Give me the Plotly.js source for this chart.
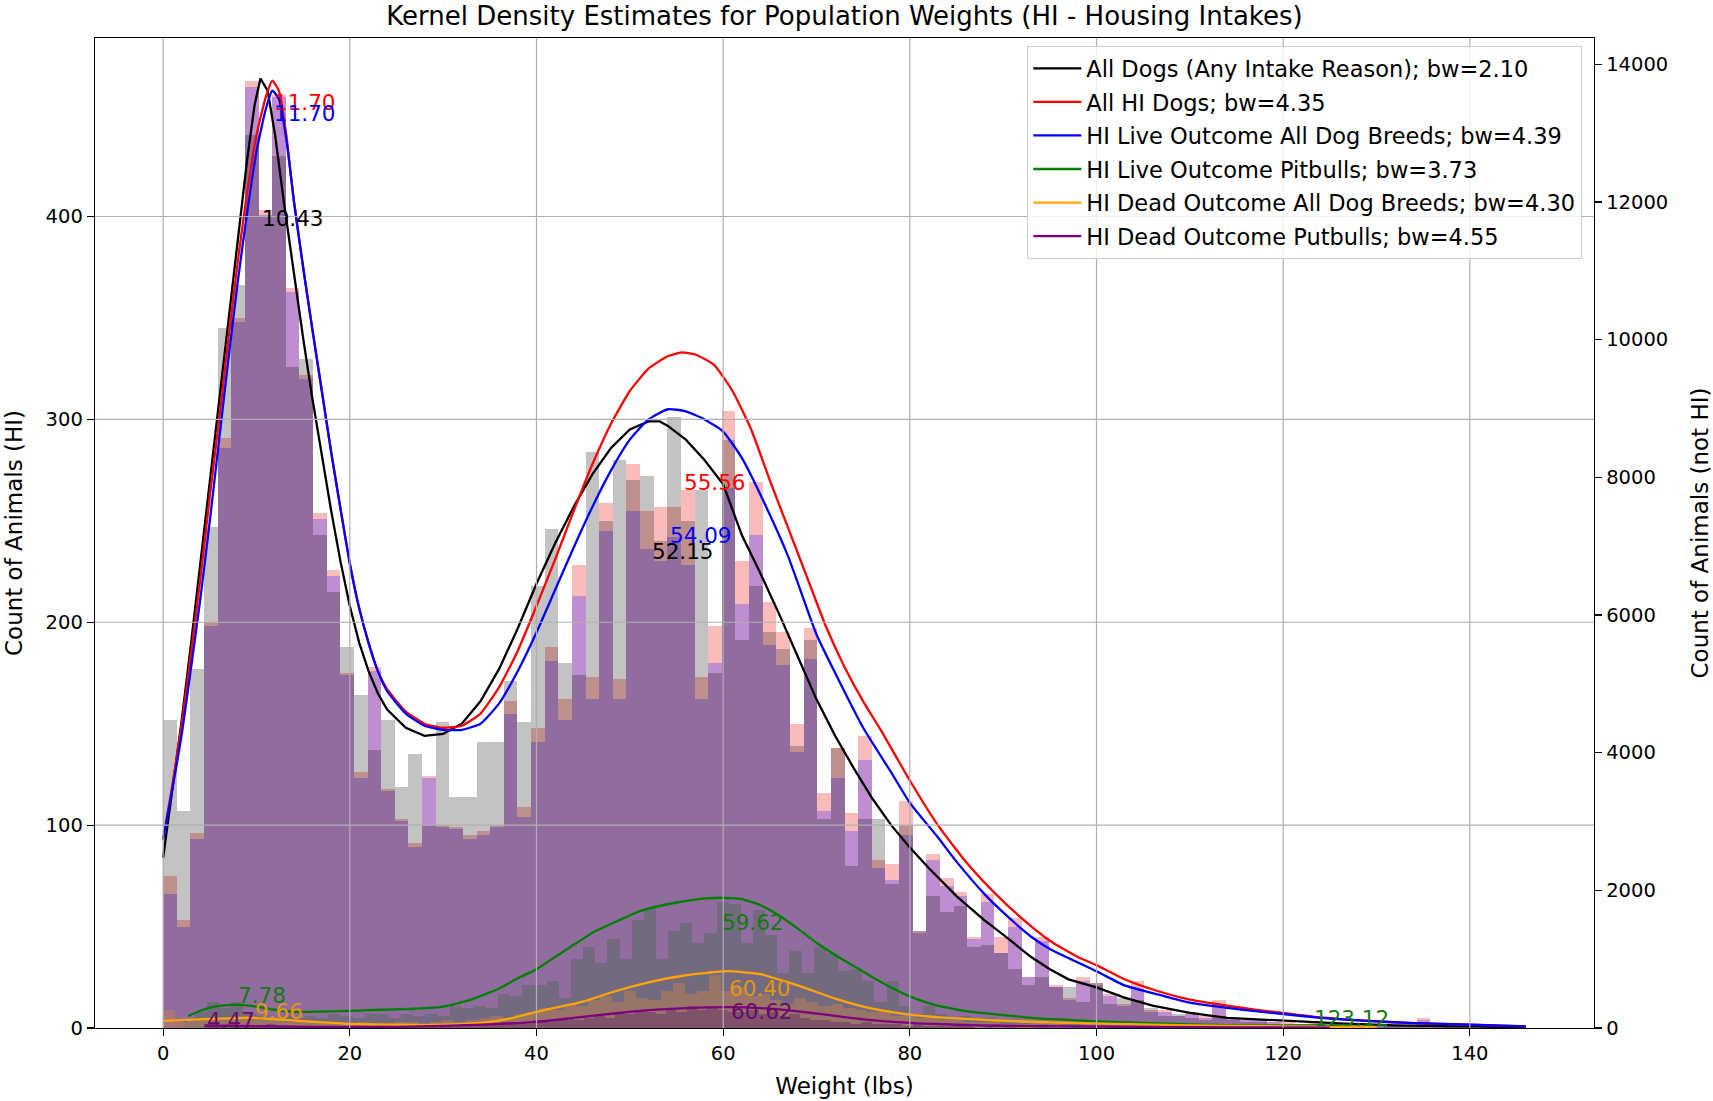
<!DOCTYPE html>
<html>
<head>
<meta charset="utf-8">
<script src="https://cdn.plot.ly/plotly-3.0.1.min.js"></script>
<style>html,body{margin:0;padding:0;background:#fff;}#chart{width:1713px;height:1101px;}</style>
</head>
<body>
<div id="chart"></div>
<script>
// ---------- DATA ----------
// Main histograms (100 bins, shared edges)
const mainBinStart = 0;
const mainBinWidth = 1.46;
// All HI dogs (count, HI axis)
const hiAllCounts = [75,53,96,200,291,350,467,403,460,365,
  322,254,226,175,126,178,118,103,91,124,
  100,99,95,97,100,161,109,148,188,162,
  228,173,259,172,278,255,257,257,265,173,
  198,304,230,269,210,195,150,197,116,138,
  106,144,83,81,112,48,86,74,67,45,
  66,45,54,25,45,21,15,25,22,17,
  12,23,9,9,6,8,6,14,5,4,
  4,3,3,2,3,2,2,2,1,2,
  1,1,5,1,1,1,0,1,0,1];
// HI live outcome, all breeds (count, HI axis)
const hiLiveCounts = [66,50,93,198,286,348,464,401,459,363,
  320,251,223,174,123,176,117,102,89,123,
  99,98,93,95,99,155,104,141,181,152,
  213,162,245,162,255,236,230,242,228,162,
  180,266,209,243,189,179,136,182,107,123,
  97,132,79,73,95,47,83,70,65,44,
  62,37,50,25,43,20,14,23,21,16,
  11,19,8,8,6,7,5,12,5,4,
  4,3,2,2,2,2,2,1,1,1,
  1,1,4,1,1,0,0,1,0,1];
// All dogs, any intake reason (count, not-HI axis)
const allDogsCounts = [4479,3153,5216,7279,10167,10786,12967,11788,12672,9607,
  9725,7161,6336,5540,4833,4037,4479,3507,3978,2947,
  4450,3360,3360,4155,4155,5039,4450,6424,7250,5305,
  5128,8369,7368,8252,7957,8016,7073,8870,7368,7810,
  5157,8546,5629,6424,5747,5511,4096,5629,3035,4067,
  2358,3035,3035,2092,2947,1415,1916,1680,1768,1179,
  1208,1090,855,619,737,589,589,383,648,354,
  442,413,295,177,206,147,118,177,118,88,
  88,59,59,59,59,29,29,29,29,29,
  29,15,29,15,10,10,5,5,3,2];

// HI live outcome pitbulls
const pitLiveBinStart = 2.1;
const pitLiveBinWidth = 1.3;
const pitLiveCounts = [4,8,13,10,13,7,6,5,6,5,
  6,5,7,6,5,7,7,5,7,6,
  7,6,11,10,11,10,17,16,21,21,
  23,15,34,40,32,44,34,53,59,34,
  48,52,42,47,62,61,42,58,46,27,
  38,27,40,37,28,29,23,13,23,11,
  7,11,7,5,6,4,5,3,4,3,
  2,3,2,2,1,2,1,1,1,0,
  1,0,1,0,0,1,0,0,0,0,
  0,0,0,1,0,0,0,0,0,1];
// HI dead outcome, all breeds
const deadAllBinStart = 0;
const deadAllBinWidth = 1.3;
const deadAllCounts = [9,3,4,5,4,5,6,5,4,4,
  3,3,3,2,3,2,3,2,2,3,
  3,2,3,4,3,4,5,6,5,7,
  8,10,9,12,11,14,16,13,18,15,
  14,18,22,17,18,26,18,20,16,17,
  14,12,15,13,11,12,10,9,8,9,
  6,7,5,5,4,4,3,3,3,2,
  2,2,1,2,1,1,1,1,0,1,
  0,1,0,0,1,0,0,0,0,0,
  0,0,0,0,0,1,0,0,0,0];
// HI dead outcome, pitbulls
const pitDeadBinStart = 4.4;
const pitDeadBinWidth = 1.1;
const pitDeadCounts = [2,1,2,1,1,1,2,1,1,1,
  1,1,1,0,1,1,0,1,1,1,
  1,1,1,1,2,1,2,2,2,3,
  3,2,4,3,4,5,4,5,6,5,
  8,7,9,8,7,10,8,11,9,10,
  9,8,8,9,7,8,6,7,5,4,
  4,3,3,2,3,2,2,2,1,2,
  1,1,1,1,1,0,1,0,1,0,
  0,1,0,0,0,0,1,0,0,0,
  0,0,0,0,0,0,0,0,0,0];

// KDE curves
// All dogs (not-HI axis)
const kdeAllDogsX = [0,1,2,3,4,5,6,7,8,9,9.8,10.43,11.2,12,13,14,15,16,17,18,19,20,21,22,23,24,26,28,30,32,34,36,38,40,42,44,46,48,50,52,53.2,54,56,58,60,62,64,66,68,70,72,74,76,78,80,82,85,88,90,93,95,97,100,103,106,110,114,120,126,132,140,146];
const kdeAllDogsY = [2475,3477,4479,5599,6778,7957,9136,10315,11493,12613,13409,13792,13615,12967,11935,10963,10020,9136,8311,7515,6778,6130,5599,5187,4863,4627,4362,4244,4273,4421,4745,5216,5806,6454,7043,7574,8045,8428,8694,8811,8811,8753,8546,8252,7898,7161,6601,6012,5393,4774,4244,3772,3330,2947,2623,2328,1916,1562,1356,1031,855,707,589,442,324,221,147,106,68,38,21,9];
// All HI dogs
const kdeHiAllX = [0,1,2,3,4,5,6,7,8,9,10,11,11.7,12.4,13.2,14,15,16,17,18,19,20,21,22,23,24,26,28,30,32,34,36,38,40,42,44,46,48,50,52,54,55.56,57,59,61,63,65,67,69,71,73,75,77,80,83,86,89,92,95,98,100,103,106.7,110,114,117,120,124,128.6,134,140,146];
const kdeHiAllY = [93,120,150,185,222,262,300,340,378,412,440,459,467,462,440,408,375,344,314,284,256,229,207,190,176,167,156,150,148,149,155,168,186,208,231,255,278,298,314,325,331,333,332,327,314,295,270,246,222,198,178,161,146,122,100,82,67,54,43,35,31,24,18,14,11,9,7.4,5.2,3.6,2.4,1.6,0.8];
// HI live outcome all breeds
const kdeHiLiveX = [0,1,2,3,4,5,6,7,8,9,10,11,11.7,12.4,13.2,14,15,16,17,18,19,20,21,22,23,24,26,28,30,32,34,36,38,40,42,44,46,48,50,52,54.09,56,58,60,62,65,67,70,72,75,78,80,83,85,88,90,93,95,100,103,106.7,110,114,117,120,124,128.6,134,140,146];
const kdeHiLiveY = [93,118,145,178,212,250,290,330,368,402,432,453,462,458,438,408,375,344,314,284,256,229,207,190,176,166,155,149,147,147,150,160,176,195,216,237,257,275,290,300,305,304,300,294,281,253,232,194,175,148,126,111,94,82,66,57,45,39,28,21,16.4,12.5,9.9,8.3,6.9,5,3.6,2.4,1.6,0.8];
// HI live outcome pitbulls
const kdePitLiveX = [2.7,4,5.5,7.78,10,12,14,16,18,20,22,25,27,30,33,36,38,40,42,44,46,48.8,51,54,57,59.62,62,64,66,68,70,72,74,76,78,80,82,84,86,88,90,93,97,100,105,110,115,120,123.12,126,129];
const kdePitLiveY = [6,8.5,10.5,11.5,10.5,9,8,8,8.2,8.4,8.8,9.2,9.5,10.5,14,19.5,24.5,29,35,41,47,53,57.5,61,63.3,64.2,63.5,60.5,55.5,49,42,36,30.5,25,20,15.6,12.3,10,8.3,7.3,6.4,5,4,3.3,2.5,1.8,1.3,1.1,1.2,0.9,0.5];
// HI dead outcome all breeds
const kdeDeadAllX = [0,5,9.66,13,17,20,25,30,34,37,40,45,48,52,56,60.4,64,68,72,76,80,84,88,92,97,102,110,120,130];
const kdeDeadAllY = [3.5,4.5,5,4,2.8,2,1.6,1.6,2.5,4.5,8,13,17.5,22.5,26,28,26.5,21,14.5,9.5,6.6,5,4,3.2,2.5,2,1.3,0.8,0.4];
// HI dead outcome pitbulls
const kdePitDeadX = [4.47,8,12,16,20,25,30,35,40,44,48.8,52,56,60.62,64,67,69.5,72,75,80,85,90,97,105,115,125];
const kdePitDeadY = [1.2,1.0,0.8,0.6,0.5,0.6,1,1.8,3,5,7.4,8.8,9.8,10.3,9.8,8.7,7.4,6,4.3,2.5,1.6,1.1,0.8,0.5,0.3,0.2];

// Peak labels
const peakLabelText = ['11.70','11.70','10.43','55.56','54.09','52.15','59.62','60.40','60.62','7.78','9.66','4.47','123.12'];
const peakLabelX = [11.70,11.70,10.43,55.56,54.09,52.15,59.62,60.40,60.62,7.78,9.66,4.47,123.12];
const peakLabelY = [456,451,399,269,243,235,52,19.4,7.9,16.1,8.2,3.8,4.6];
const peakLabelSeries = [1,2,0,1,2,0,3,4,5,3,4,5,3];

const seriesNames = ['All Dogs (Any Intake Reason); bw=2.10','All HI Dogs; bw=4.35','HI Live Outcome All Dog Breeds; bw=4.39','HI Live Outcome Pitbulls; bw=3.73','HI Dead Outcome All Dog Breeds; bw=4.30','HI Dead Outcome Putbulls; bw=4.55'];

const xTickVals = [0,20,40,60,80,100,120,140];
const yTickVals = [0,100,200,300,400];
const y2TickVals = [0,2000,4000,6000,8000,10000,12000,14000];

// ---------- STYLE ----------
const lineColors = ['#000000','#ff0000','#0000ff','#008000','#ffa500','#800080'];
const labelColors = ['#000000','#ff0000','#0000ff','#137a13','#e3960f','#6a0a6a'];

function centers(start, width, n){ const c=[]; for(let i=0;i<n;i++) c.push(start+(i+0.5)*width); return c; }
function barTrace(start,width,counts,color,yaxis){
  return {type:'bar', x:centers(start,width,counts.length), y:counts, width:width,
    marker:{color:color, line:{width:0}}, yaxis:yaxis, xaxis:'x', showlegend:false, hoverinfo:'skip'};
}

const traces = [
  barTrace(mainBinStart, mainBinWidth, hiAllCounts, 'rgba(238,32,25,0.3)', 'y'),
  barTrace(mainBinStart, mainBinWidth, hiLiveCounts, 'rgba(130,96,230,0.5)', 'y'),
  barTrace(pitLiveBinStart, pitLiveBinWidth, pitLiveCounts, 'rgba(65,133,71,0.3)', 'y'),
  barTrace(deadAllBinStart, deadAllBinWidth, deadAllCounts, 'rgba(250,170,110,0.5)', 'y'),
  barTrace(pitDeadBinStart, pitDeadBinWidth, pitDeadCounts, 'rgba(120,40,140,0.4)', 'y'),
  barTrace(mainBinStart, mainBinWidth, allDogsCounts, 'rgba(0,0,0,0.235)', 'y2'),
];
const kdeX = [kdeAllDogsX,kdeHiAllX,kdeHiLiveX,kdePitLiveX,kdeDeadAllX,kdePitDeadX];
const kdeY = [kdeAllDogsY,kdeHiAllY,kdeHiLiveY,kdePitLiveY,kdeDeadAllY,kdePitDeadY];
for(let i=0;i<6;i++){
  traces.push({type:'scatter', mode:'lines', x:kdeX[i], y:kdeY[i], name:seriesNames[i],
    line:{color:lineColors[i], width:2.3, shape: i===0 ? 'linear' : 'spline', smoothing:0.5},
    xaxis:'x', yaxis: i===0 ? 'y2' : 'y3', legendrank: i+1, legendgroup:'g'+i, hoverinfo:'skip'});
}

const shapes = [];
xTickVals.forEach(v=>shapes.push({type:'line', xref:'x', yref:'paper', x0:v, x1:v, y0:0, y1:1, layer:'above', line:{color:'#b0b0b0', width:1.2}}));
yTickVals.forEach(v=>{ if(v>0) shapes.push({type:'line', xref:'paper', yref:'y', x0:0, x1:1, y0:v, y1:v, layer:'above', line:{color:'#b0b0b0', width:1.2}}); });

const annotations = peakLabelText.map((t,i)=>({text:t, x:peakLabelX[i], y:peakLabelY[i], xref:'x', yref:'y',
  xanchor:'left', yanchor:'middle', showarrow:false, font:{size:21.5, color:labelColors[peakLabelSeries[i]]}}));

const axisCommon = {ticks:'outside', ticklen:7, tickwidth:1.2, tickcolor:'#000', showline:true, linecolor:'#000', linewidth:1.3, zeroline:false, showgrid:false, tickformat:'d'};

const layout = {
  width:1713, height:1101,
  margin:{l:95, r:119, t:38, b:73, pad:0},
  paper_bgcolor:'#fff', plot_bgcolor:'#fff',
  font:{family:'DejaVu Sans', size:19.5, color:'#000'},
  title:{text:'Kernel Density Estimates for Population Weights (HI - Housing Intakes)', font:{size:26, color:'#000'}, x:0.5, xref:'paper', xanchor:'center', y:0.9855, yref:'container', yanchor:'middle'},
  barmode:'overlay', bargap:0,
  xaxis:Object.assign({}, axisCommon, {range:[-7.3,153.3], tickvals:xTickVals, mirror:true, title:{text:'Weight (lbs)', standoff:14}}),
  yaxis:Object.assign({}, axisCommon, {range:[0,488], tickvals:yTickVals, mirror:true, title:{text:'Count of Animals (HI)', standoff:16}}),
  yaxis2:Object.assign({}, axisCommon, {range:[0,14381], tickvals:y2TickVals, overlaying:'y', side:'right', title:{text:'Count of Animals (not HI)', standoff:24}}),
  yaxis3:{range:[0,488], overlaying:'y', visible:false, showgrid:false, zeroline:false},
  legend:{x:0.992, y:0.992, xanchor:'right', yanchor:'top', bgcolor:'rgba(255,255,255,0.8)', bordercolor:'#cccccc', borderwidth:1.3, font:{size:22.5}, tracegroupgap:1.3, itemwidth:48},
  shapes:shapes, annotations:annotations, showlegend:true
};

Plotly.newPlot('chart', traces, layout, {displayModeBar:false, staticPlot:true});
</script>
</body>
</html>
